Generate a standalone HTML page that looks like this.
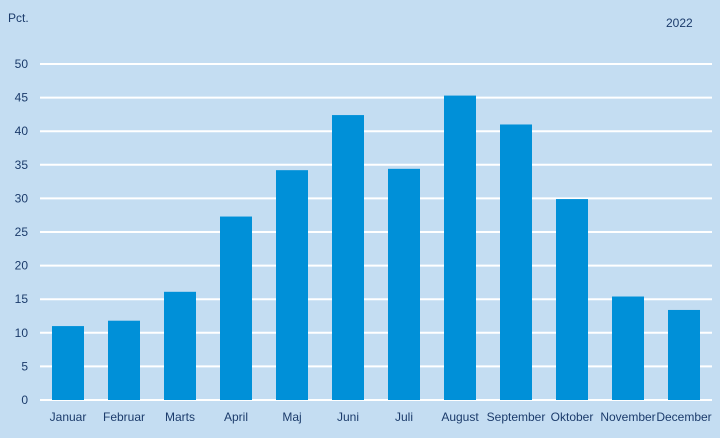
<!DOCTYPE html>
<html><head><meta charset="utf-8"><style>
body{margin:0;background:#c4ddf2;}
svg{display:block;font-family:"Liberation Sans",Arial,sans-serif;}
</style></head><body>
<svg id="c" width="720" height="438">
<rect x="0" y="0" width="720" height="438" fill="#c4ddf2"/>
<text x="8" y="22" font-size="12" fill="#1b3b6b">Pct.</text>
<text x="666" y="27" font-size="12" fill="#1b3b6b">2022</text>
<g id="grid"></g><g id="bars"></g><g id="labels"></g>
</svg>
<script>
const categories=["Januar","Februar","Marts","April","Maj","Juni","Juli","August","September","Oktober","November","December"];
const values=[11.0,11.8,16.1,27.3,34.2,42.4,34.4,45.3,41.0,29.9,15.4,13.4];
const yTicks=[0,5,10,15,20,25,30,35,40,45,50];
const ns="http://www.w3.org/2000/svg";
const x0=40,x1=712,yBase=400,yTop=64,yMax=50;
const y=v=>yBase-(yBase-yTop)*v/yMax;
const band=(x1-x0)/categories.length;
const xc=i=>x0+band*(i+0.5);
const g=document.getElementById('grid'),b=document.getElementById('bars'),l=document.getElementById('labels');
yTicks.forEach(t=>{
 const ln=document.createElementNS(ns,'line');
 
 
 ln.setAttribute('x1',x0);ln.setAttribute('x2',x1);ln.setAttribute('y1',y(t));ln.setAttribute('y2',y(t));
 ln.setAttribute('stroke','#fff');ln.setAttribute('stroke-width','2');g.appendChild(ln);
 const tx=document.createElementNS(ns,'text');
 
 
 tx.setAttribute('x',28);tx.setAttribute('y',y(t)+4);tx.setAttribute('text-anchor','end');
 tx.setAttribute('font-size','12');tx.setAttribute('fill','#1b3b6b');tx.textContent=t;g.appendChild(tx);
});
categories.forEach((c,i)=>{
 const r=document.createElementNS(ns,'rect');
 
 
 r.setAttribute('x',xc(i)-16);r.setAttribute('width',32);
 r.setAttribute('y',y(values[i]));r.setAttribute('height',yBase-y(values[i]));
 r.setAttribute('fill','#0090d8');b.appendChild(r);
 const tx=document.createElementNS(ns,'text');
 
 
 tx.setAttribute('x',xc(i));tx.setAttribute('y',421);tx.setAttribute('text-anchor','middle');
 tx.setAttribute('font-size','12');tx.setAttribute('fill','#1b3b6b');tx.textContent=c;l.appendChild(tx);
});
</script>
</body></html>
